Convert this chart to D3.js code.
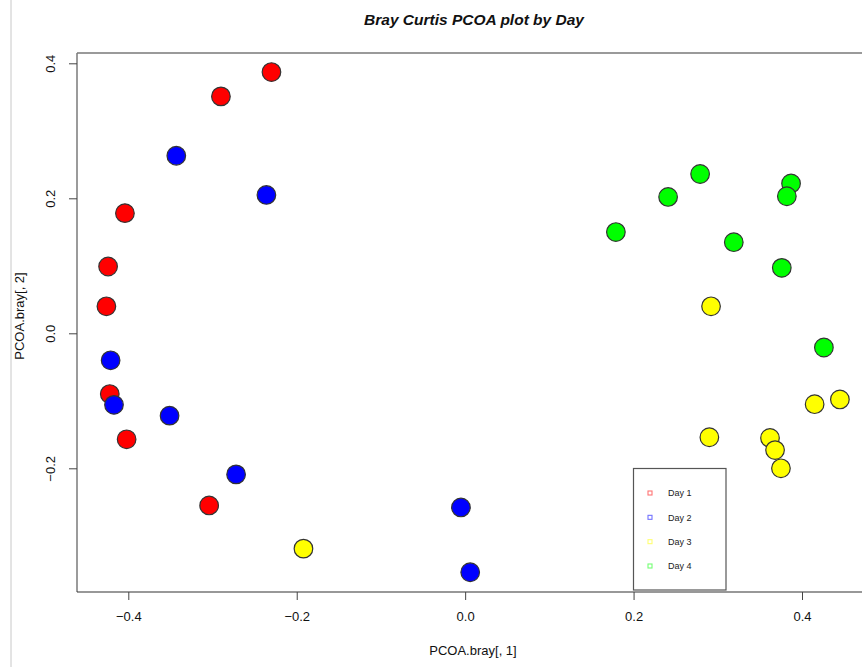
<!DOCTYPE html>
<html>
<head>
<meta charset="utf-8">
<script src="https://cdn.jsdelivr.net/npm/d3@7"></script>
<style>
  html, body { margin: 0; padding: 0; background: #fff; }
  svg { display: block; font-family: "Liberation Sans", Arial, Helvetica, sans-serif; }
</style>
</head>
<body>
<svg id="chart" width="862" height="667"></svg>
<script>
// PCoA coordinates (axis 1, axis 2) of Bray-Curtis distances, grouped by day
const day1 = [[-0.230, 0.387], [-0.290, 0.351], [-0.404, 0.178], [-0.424, 0.099],
              [-0.426, 0.040], [-0.422, -0.090], [-0.402, -0.157], [-0.304, -0.255]];
const day2 = [[-0.343, 0.263], [-0.236, 0.205], [-0.421, -0.040], [-0.417, -0.106],
              [-0.351, -0.122], [-0.272, -0.209], [-0.005, -0.258], [0.006, -0.354]];
const day3 = [[-0.192, -0.319], [0.292, 0.040], [0.415, -0.105], [0.445, -0.098],
              [0.290, -0.154], [0.362, -0.155], [0.375, -0.200], [0.368, -0.173]];
const day4 = [[0.387, 0.222], [0.382, 0.203], [0.279, 0.236], [0.241, 0.202],
              [0.179, 0.150], [0.319, 0.135], [0.376, 0.097], [0.426, -0.021]];

const groupNames = ["Day 1", "Day 2", "Day 3", "Day 4"];
const groupColors = ["#ff0000", "#0000ff", "#ffff00", "#00ff00"];
const groups = [day1, day2, day3, day4];

const xTicks = [-0.4, -0.2, 0.0, 0.2, 0.4];
const yTicks = [-0.2, 0.0, 0.2, 0.4];

const svg = d3.select("#chart");

// plotting region (right edge runs past the window)
const plot = { left: 77, top: 53, right: 869, bottom: 592 };

const x = d3.scaleLinear().domain([-0.4, 0.4]).range([128.3, 802]);
const y = d3.scaleLinear().domain([-0.2, 0.4]).range([468.3, 63.3]);

// thin page rule on the left
svg.append("line")
  .attr("x1", 11).attr("x2", 11).attr("y1", 0).attr("y2", 667)
  .attr("stroke", "#c8c8c8").attr("stroke-width", 1);

// title
svg.append("text")
  .attr("x", 474).attr("y", 25)
  .attr("text-anchor", "middle")
  .attr("font-size", 15.5).attr("font-weight", "bold").attr("font-style", "italic")
  .attr("fill", "#111")
  .text("Bray Curtis PCOA plot by Day");

// frame
svg.append("line").attr("x1", plot.left).attr("x2", plot.right)
  .attr("y1", plot.top).attr("y2", plot.top)
  .attr("stroke", "#9a9a9a").attr("stroke-width", 2);
svg.append("line").attr("x1", plot.left).attr("x2", plot.left)
  .attr("y1", plot.top).attr("y2", plot.bottom)
  .attr("stroke", "#7a7a7a").attr("stroke-width", 1.5);
svg.append("line").attr("x1", plot.left).attr("x2", plot.right)
  .attr("y1", plot.bottom).attr("y2", plot.bottom)
  .attr("stroke", "#333").attr("stroke-width", 1.2);

// x axis
const xAxis = d3.axisBottom(x).tickValues(xTicks).tickSize(8).tickPadding(12)
  .tickFormat(d => d3.format(".1f")(d).replace("-", "\u2212"));
const gx = svg.append("g").attr("transform", `translate(0,${plot.bottom})`).call(xAxis);
gx.select(".domain").remove();
gx.selectAll(".tick line").attr("stroke", "#444");
gx.selectAll(".tick text").attr("font-size", 13).attr("fill", "#111")
  .attr("font-family", "Liberation Sans, Arial, sans-serif");

// y axis
const yAxis = d3.axisLeft(y).tickValues(yTicks).tickSize(8).tickPadding(0)
  .tickFormat(d => d3.format(".1f")(d).replace("-", "\u2212"));
const gy = svg.append("g").attr("transform", `translate(${plot.left},0)`).call(yAxis);
gy.select(".domain").remove();
gy.selectAll(".tick line").attr("stroke", "#444");
gy.selectAll(".tick text")
  .attr("font-size", 13).attr("fill", "#111")
  .attr("font-family", "Liberation Sans, Arial, sans-serif")
  .attr("text-anchor", "middle")
  .attr("x", 0).attr("dy", 0)
  .attr("transform", "translate(-22,0) rotate(-90)");

// axis titles
svg.append("text")
  .attr("x", 473).attr("y", 655)
  .attr("text-anchor", "middle").attr("font-size", 13).attr("fill", "#111")
  .text("PCOA.bray[, 1]");
svg.append("text")
  .attr("transform", "translate(24,316) rotate(-90)")
  .attr("text-anchor", "middle").attr("font-size", 13).attr("fill", "#111")
  .text("PCOA.bray[, 2]");

// points
const pts = svg.append("g");
groups.forEach((g, i) => {
  pts.selectAll(null)
    .data(g)
    .enter().append("circle")
    .attr("cx", d => x(d[0]))
    .attr("cy", d => y(d[1]))
    .attr("r", 9.3)
    .attr("fill", groupColors[i])
    .attr("stroke", "#333")
    .attr("stroke-width", 1.2);
});

// legend
const leg = svg.append("g");
leg.append("rect")
  .attr("x", 633.5).attr("y", 468.5).attr("width", 92.5).attr("height", 121.5)
  .attr("fill", "#fff").attr("stroke", "#555").attr("stroke-width", 1.2);
const legY = d3.scalePoint().domain(groupNames).range([493, 566]);
groupNames.forEach((name, i) => {
  leg.append("rect")
    .attr("x", 648).attr("y", legY(name) - 2).attr("width", 4).attr("height", 4)
    .attr("fill", "none").attr("stroke", groupColors[i]).attr("stroke-opacity", 0.55)
    .attr("stroke-width", 1.1);
  leg.append("text")
    .attr("x", 668).attr("y", legY(name) + 3.3)
    .attr("font-size", 9).attr("fill", "#222")
    .text(name);
});
</script>
</body>
</html>
